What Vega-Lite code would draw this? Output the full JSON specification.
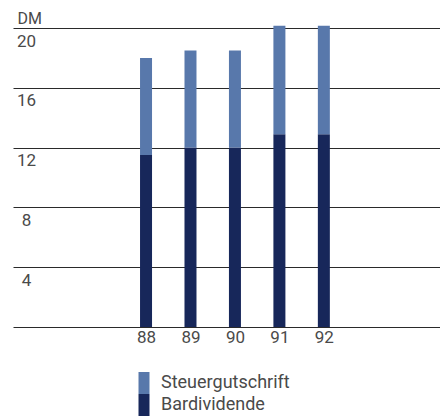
{
  "$schema": "https://vega.github.io/schema/vega-lite/v6.json",
  "autosize": {"type": "none"},
  "padding": {"left": 13, "top": 28, "right": 0, "bottom": 90},
  "width": 427,
  "height": 299,
  "background": "white",
  "config": {
    "font": "Roboto",
    "view": {"stroke": null}
  },
  "data": {
    "values": [
      {"jahr": 88, "teil": "Bardividende", "dm": 11.5},
      {"jahr": 88, "teil": "Steuergutschrift", "dm": 6.5},
      {"jahr": 89, "teil": "Bardividende", "dm": 12.0},
      {"jahr": 89, "teil": "Steuergutschrift", "dm": 6.5},
      {"jahr": 90, "teil": "Bardividende", "dm": 12.0},
      {"jahr": 90, "teil": "Steuergutschrift", "dm": 6.5},
      {"jahr": 91, "teil": "Bardividende", "dm": 12.9},
      {"jahr": 91, "teil": "Steuergutschrift", "dm": 7.25},
      {"jahr": 92, "teil": "Bardividende", "dm": 12.9},
      {"jahr": 92, "teil": "Steuergutschrift", "dm": 7.25}
    ]
  },
  "mark": {"type": "bar", "size": 12},
  "encoding": {
    "x": {
      "field": "jahr",
      "type": "quantitative",
      "scale": {"domain": [85.12, 94.5], "nice": false, "zero": false},
      "axis": {
        "title": null,
        "values": [88, 89, 90, 91, 92],
        "format": "d",
        "domain": false,
        "ticks": false,
        "grid": false,
        "labelFontSize": 17,
        "labelColor": "#4a4a4a",
        "labelPadding": 2
      }
    },
    "y": {
      "field": "dm",
      "type": "quantitative",
      "stack": "zero",
      "scale": {"domain": [0, 20], "nice": false},
      "axis": {
        "values": [0, 4, 8, 12, 16, 20],
        "labelExpr": "datum.value == 0 ? '' : datum.label",
        "domain": false,
        "ticks": false,
        "grid": true,
        "gridColor": "#2a2a2a",
        "gridWidth": 1,
        "gridOpacity": 1,
        "labelAlign": "center",
        "labelBaseline": "top",
        "labelPadding": -13,
        "labelOffset": 5,
        "labelFontSize": 17,
        "labelColor": "#4a4a4a",
        "title": "DM",
        "titleAngle": 0,
        "titleAlign": "left",
        "titleBaseline": "alphabetic",
        "titleX": 4,
        "titleY": -5,
        "titleFontSize": 16,
        "titleFontWeight": "normal",
        "titleColor": "#4a4a4a"
      }
    },
    "order": {"field": "teil", "sort": "ascending"},
    "color": {
      "field": "teil",
      "type": "nominal",
      "scale": {
        "domain": ["Steuergutschrift", "Bardividende"],
        "range": ["#5878ab", "#17275a"]
      },
      "legend": {
        "title": null,
        "orient": "none",
        "legendX": 120,
        "legendY": 344,
        "symbolType": "M-0.5,-1H0.5V1H-0.5Z",
        "symbolSize": 484,
        "symbolStrokeWidth": 0,
        "rowPadding": 0,
        "labelOffset": 6,
        "labelFontSize": 18,
        "labelColor": "#4a4a4a"
      }
    }
  }
}
